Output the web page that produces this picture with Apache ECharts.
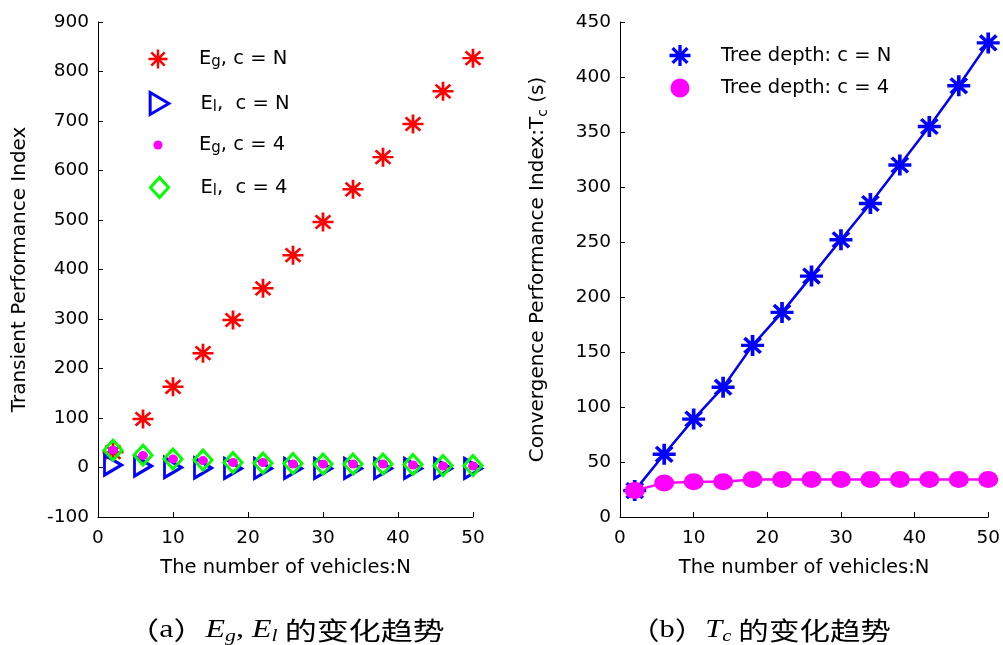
<!DOCTYPE html>
<html>
<head>
<meta charset="utf-8">
<script src="https://cdn.jsdelivr.net/npm/echarts@6/dist/echarts.min.js"></script>
<style>
  html, body { margin: 0; padding: 0; background: #fff; }
  #chart { width: 1003px; height: 645px; }
</style>
</head>
<body>
<div id="chart"></div>
<script>
// Number of vehicles N (shared x values of both panels)
const vehicles = [2, 6, 10, 14, 18, 22, 26, 30, 34, 38, 42, 46, 50];

// (a) transient performance indices
const egTreeN = [31, 98, 163, 231, 298, 362, 429, 496, 562, 627, 694, 760, 827];
const elTreeN = [5, 3, 0, -1, -2, -2, -2, -2, -2, -2, -2, -2, -2];
const egTree4 = [35, 24, 17, 14, 10, 10, 7, 7, 7, 7, 5, 3, 3];
const elTree4 = [35, 25, 17, 15, 10, 9, 8, 7, 7, 7, 6, 4, 4];

// (b) convergence time T_c (s)
const tcTreeN = [24, 57, 89, 118, 156, 186, 219, 252, 285, 320, 355, 392, 431];
const tcTree4 = [24, 31, 32, 32, 34, 34, 34, 34, 34, 34, 34, 34, 34];

// axis ranges: [min, max, interval]
const xRange = [0, 50, 10];
const leftYRange = [-100, 900, 100];
const rightYRange = [0, 450, 50];

const FONT = 'DejaVu Sans';
const pairs = ys => vehicles.map((x, i) => [x, ys[i]]);

// asterisk marker (+ and x overlaid) as filled bars in a 20x20 box
function asterisk(t) {
  const c = 10, h = t / 2, d = 10 * Math.SQRT1_2, e = h * Math.SQRT1_2;
  const p = pts => 'M' + pts.map(q => q[0].toFixed(2) + ',' + q[1].toFixed(2)).join('L') + 'Z';
  return 'path://' + [
    p([[0, c - h], [20, c - h], [20, c + h], [0, c + h]]),
    p([[c - h, 0], [c + h, 0], [c + h, 20], [c - h, 20]]),
    p([[c - d - e, c - d + e], [c - d + e, c - d - e], [c + d + e, c + d - e], [c + d - e, c + d + e]]),
    p([[c + d - e, c - d - e], [c + d + e, c - d + e], [c - d + e, c + d + e], [c - d - e, c + d - e]])
  ].join(' ');
}
const STAR_THIN = asterisk(2.6);
const STAR_BOLD = asterisk(3.2);
const TRIANGLE_R = 'path://M0,0L17,10L0,20Z';
const DIAMOND = 'path://M9,0L18,10L9,20L0,10Z';
const DOT = 'path://M0,10A10,10 0 1,1 20,10A10,10 0 1,1 0,10Z';

const richText = {
  t: { fontFamily: FONT, fontSize: 19.5, lineHeight: 22, color: '#000' },
  s: { fontFamily: FONT, fontSize: 15, lineHeight: 4, verticalAlign: 'bottom', color: '#000' }
};
const legendLabels = {
  'Eg, c = N': '{t|E}{s|g}{t|, c = N}',
  'El, c = N': '{t|E}{s|l}{t|,  c = N}',
  'Eg, c = 4': '{t|E}{s|g}{t|, c = 4}',
  'El, c = 4': '{t|E}{s|l}{t|,  c = 4}',
  'Tree depth: c = N': '{t|Tree depth: c = N}',
  'Tree depth: c = 4': '{t|Tree depth: c = 4}'
};
// one legend per entry: icon centred at cx, label starting at cx + 41, row centred at cy
const ITEM_W = 72;
function legendItem(name, icon, cx, cy, iconW, iconH, itemStyle) {
  return {
    data: [{ name: name, icon: icon }],
    left: cx - iconW / 2, top: cy - 11, orient: 'vertical', padding: 0,
    itemWidth: ITEM_W, itemHeight: iconH, selectedMode: false,
    itemStyle: itemStyle,
    formatter: n => legendLabels[n],
    textStyle: { fontFamily: FONT, fontSize: 19.5, color: '#000', rich: richText }
  };
}

function xAxis(gridIndex) {
  return {
    type: 'value', gridIndex: gridIndex, min: xRange[0], max: xRange[1], interval: xRange[2],
    name: 'The number of vehicles:N', nameLocation: 'middle', nameGap: 41,
    nameTextStyle: { fontFamily: FONT, fontSize: 19.5, color: '#000' },
    axisLine: { show: true, onZero: false, lineStyle: { color: '#000', width: 1 } },
    axisTick: { show: true, inside: true, length: 5, lineStyle: { color: '#000' } },
    axisLabel: { fontFamily: FONT, fontSize: 18.5, color: '#000', margin: 12 },
    splitLine: { show: false }
  };
}
function yAxis(gridIndex, range, name, gap) {
  return {
    type: 'value', gridIndex: gridIndex, min: range[0], max: range[1], interval: range[2],
    name: name, nameLocation: 'middle', nameGap: gap,
    nameTextStyle: {
      fontFamily: FONT, fontSize: 20, color: '#000',
      rich: {
        t: { fontFamily: FONT, fontSize: 20, lineHeight: 24, color: '#000' },
        s: { fontFamily: FONT, fontSize: 14, lineHeight: 8, verticalAlign: 'bottom', color: '#000' }
      }
    },
    axisLine: { show: true, onZero: false, lineStyle: { color: '#000', width: 1 } },
    axisTick: { show: true, inside: true, length: 5, lineStyle: { color: '#000' } },
    axisLabel: { fontFamily: FONT, fontSize: 18.5, color: '#000', margin: 9 },
    splitLine: { show: false }
  };
}

const hollow = c => ({ color: 'rgba(0,0,0,0)', borderColor: c, borderWidth: 3, opacity: 1 });
const solid = c => ({ color: c, borderWidth: 0, opacity: 1 });

const captionRich = {
  p: { fontFamily: 'Noto Sans CJK SC', fontSize: 25, lineHeight: 30, fill: '#000' },
  r: { fontFamily: 'Liberation Serif', fontSize: 25, lineHeight: 30, fill: '#000' },
  i: { fontFamily: 'Liberation Serif', fontStyle: 'italic', fontSize: 25, lineHeight: 30, fill: '#000' },
  is: { fontFamily: 'Liberation Serif', fontStyle: 'italic', fontSize: 17, lineHeight: 8, verticalAlign: 'bottom', fill: '#000' },
  c: { fontFamily: 'Noto Sans CJK SC', fontSize: 25, lineHeight: 30, fill: '#000' }
};

const option = {
  animation: false,
  backgroundColor: '#fff',
  grid: [
    { left: 98, top: 22, width: 375, height: 495 },
    { left: 620, top: 22, width: 370, height: 495 }
  ],
  xAxis: [xAxis(0), xAxis(1)],
  yAxis: [
    yAxis(0, leftYRange, 'Transient Performance Index', 68),
    yAxis(1, rightYRange, '{t|Convergence Performance Index:T}{s|c}{t| (s)}', 70)
  ],
  legend: [
    legendItem('Eg, c = N', STAR_THIN, 158, 60, 19, 19, solid('#ff0000')),
    legendItem('El, c = N', TRIANGLE_R, 158, 102, 18.7, 22, hollow('#0000ff')),
    legendItem('Eg, c = 4', DOT, 158, 146, 9, 9, solid('#ff00ff')),
    legendItem('El, c = 4', DIAMOND, 158, 187, 18, 20, hollow('#00ff00')),
    legendItem('Tree depth: c = N', STAR_BOLD, 680, 56, 21, 21, solid('#0000ff')),
    legendItem('Tree depth: c = 4', DOT, 680, 89, 19, 19, solid('#ff00ff'))
  ],
  series: [
    { name: 'Eg, c = N', type: 'scatter', xAxisIndex: 0, yAxisIndex: 0, data: pairs(egTreeN),
      symbol: STAR_THIN, symbolSize: [21, 19], itemStyle: solid('#ff0000') },
    { name: 'El, c = N', type: 'scatter', xAxisIndex: 0, yAxisIndex: 0, data: pairs(elTreeN),
      symbol: TRIANGLE_R, symbolSize: [17, 20], itemStyle: hollow('#0000ff') },
    { name: 'Eg, c = 4', type: 'scatter', xAxisIndex: 0, yAxisIndex: 0, data: pairs(egTree4),
      symbol: DOT, symbolSize: [10, 9], itemStyle: solid('#ff00ff') },
    { name: 'El, c = 4', type: 'scatter', xAxisIndex: 0, yAxisIndex: 0, data: pairs(elTree4),
      symbol: DIAMOND, symbolSize: [18, 20], itemStyle: hollow('#00ff00') },
    { name: 'Tree depth: c = N', type: 'line', xAxisIndex: 1, yAxisIndex: 1, data: pairs(tcTreeN),
      symbol: STAR_BOLD, symbolSize: [23, 21], showAllSymbol: true,
      lineStyle: { color: '#0000ff', width: 2.5 }, itemStyle: solid('#0000ff') },
    { name: 'Tree depth: c = 4', type: 'line', xAxisIndex: 1, yAxisIndex: 1, data: pairs(tcTree4),
      symbol: DOT, symbolSize: [20, 17], showAllSymbol: true,
      lineStyle: { color: '#ff00ff', width: 2.5 }, itemStyle: solid('#ff00ff') }
  ],
  graphic: [
    { type: 'text', x: 286, y: 630, scaleX: 1.28, silent: true,
      style: { text: '{p|（}{r|a}{p|）}{i|E}{is|g}{r|, }{i|E}{is|l}{c| 的变化趋势}',
               rich: captionRich, align: 'center', verticalAlign: 'middle' } },
    { type: 'text', x: 760, y: 630, scaleX: 1.22, silent: true,
      style: { text: '{p|（}{r|b}{p|）}{i|T}{is|c}{c| 的变化趋势}',
               rich: captionRich, align: 'center', verticalAlign: 'middle' } }
  ]
};

const chart = echarts.init(document.getElementById('chart'));
chart.setOption(option);
</script>
</body>
</html>
